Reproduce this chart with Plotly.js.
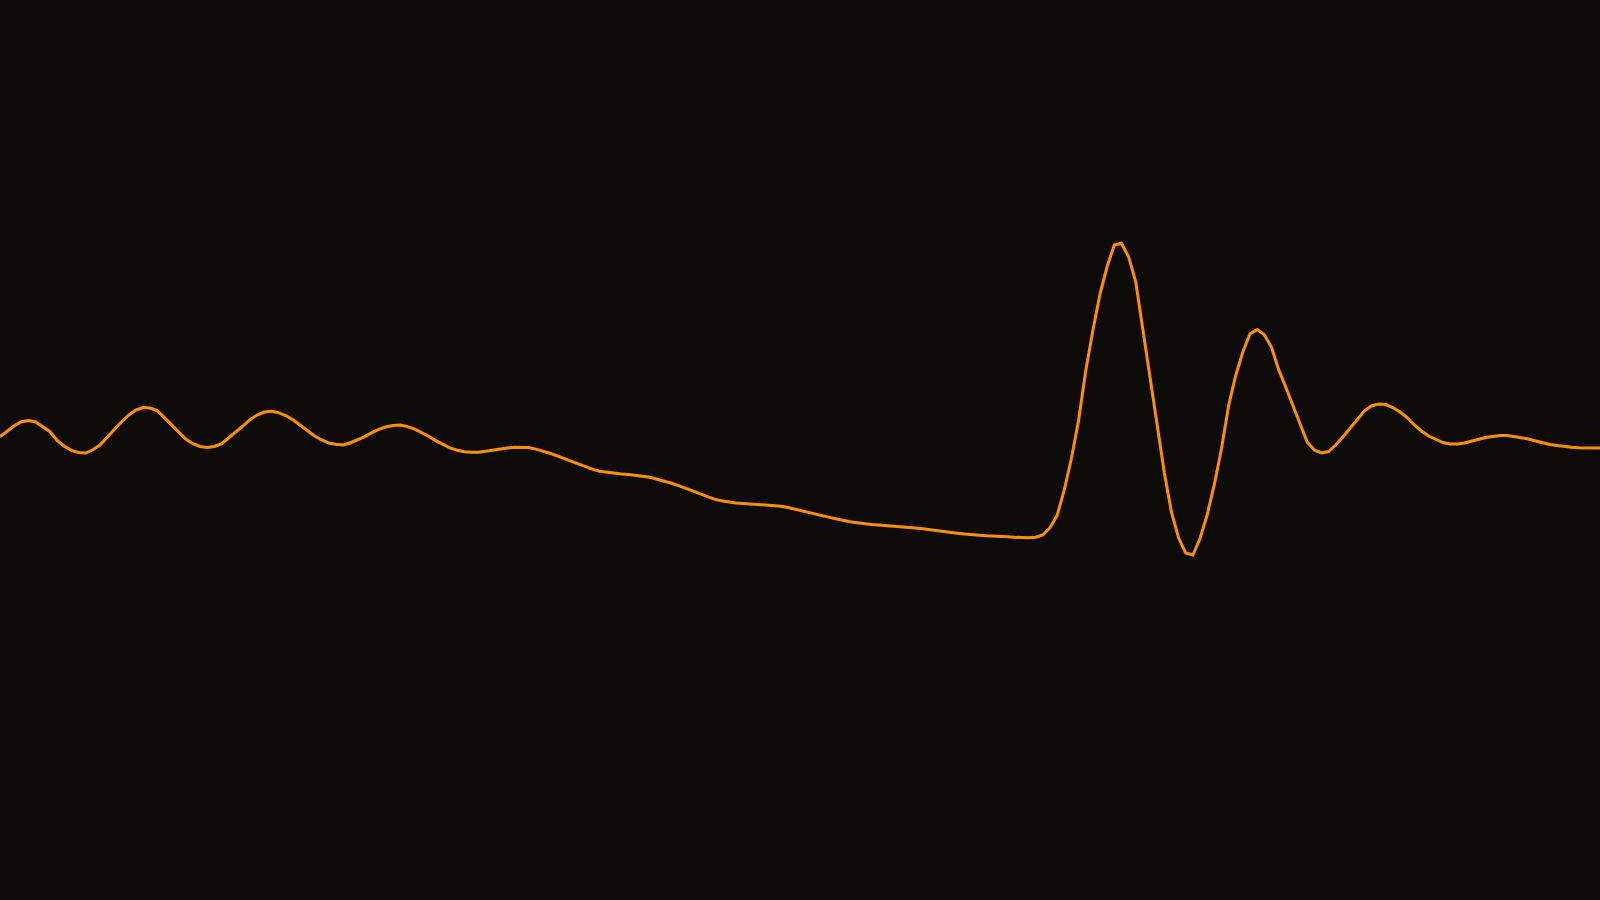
<!DOCTYPE html>
<html>
<head>
<meta charset="utf-8">
<script src="https://cdn.plot.ly/plotly-3.0.1.min.js"></script>
<style>
  html, body { margin: 0; padding: 0; background: #0c0b08; }
  #chart { width: 1600px; height: 900px; }
</style>
</head>
<body>
<div id="chart"></div>
<script>
// Sample amplitudes, one per time step
const amplitude = [
  13.3, 18.7, 24.3, 28.2, 29.4, 28, 23.5, 18.3, 9.5, 3.8,
  -0.4, -2.5, -3, 0.2, 5, 12.2, 20.4, 28, 34.8, 40,
  42.5, 42, 39.5, 32.4, 25.2, 18.2, 11, 6.3, 3.5, 2.4,
  3.5, 6, 11.8, 17.5, 24, 30.3, 35, 38, 38.8, 37.4,
  34.5, 30.2, 24.7, 19, 14.3, 10.3, 7, 5.7, 5, 7,
  9.7, 13.1, 17.1, 20.6, 23, 24.5, 25, 23.5, 21.2, 17.6,
  13.8, 9.4, 5.4, 2.2, -0.2, -1.8, -2.3, -2.3, -1.3, 0,
  1.1, 2, 2.7, 2.7, 2.4, 0.9, -1, -3.3, -5.8, -8.6,
  -11.8, -14.6, -17, -19.4, -21.2, -22.3, -23.4, -24, -24.6, -25.3,
  -26.3, -27.3, -29.2, -31, -33.3, -35.7, -38.3, -41, -43.7, -46.4,
  -49.1, -50.8, -52, -53.1, -53.6, -54, -54.3, -54.8, -55.4, -55.9,
  -57, -58.6, -60, -61.8, -63.6, -65.3, -67.1, -68.8, -70.6, -71.7,
  -72.7, -73.7, -74.4, -74.9, -75.4, -76, -76.6, -77.2, -77.8, -78.5,
  -79.5, -80.6, -81.6, -82.5, -83.2, -84, -84.7, -85.2, -85.7, -86,
  -86, -86.7, -87.3, -87.7, -87.7, -87.3, -85, -77.7, -65.3, -40,
  -8.3, 29.5, 79, 119.5, 156, 183.5, 205, 206.7, 193.3, 168.3,
  121.4, 72.4, 23.5, -22.4, -62, -87.8, -103, -105, -88.8, -65,
  -34.7, 1, 44, 74.5, 98, 116.3, 120.4, 115.3, 103, 80.6,
  63, 45, 26, 8, 0, -3, -1.5, 5, 13, 21.5,
  30.5, 39, 44, 46, 45.5, 42.5, 38, 32.5, 25, 19,
  14, 10.5, 7.5, 6, 6, 7, 9, 11, 12.5, 13.5,
  14.5, 14.5, 13.5, 12.5, 11, 9, 7, 5.5, 4.5, 3.5,
  2.7, 2.3, 2, 2, 2
];
const steps = amplitude.map((v, i) => i);

const data = [{
  x: steps,
  y: amplitude,
  type: 'scatter',
  mode: 'lines',
  line: {color: '#ff8f00', width: 3},
  hoverinfo: 'skip'
}];

const layout = {
  width: 1600,
  height: 900,
  margin: {l: 0, r: 0, t: 0, b: 0},
  paper_bgcolor: '#0c0b08',
  plot_bgcolor: '#0c0b08',
  showlegend: false,
  xaxis: {range: [0, steps.length - 1], visible: false, fixedrange: true},
  yaxis: {range: [-450, 450], visible: false, fixedrange: true}
};

Plotly.newPlot('chart', data, layout, {displayModeBar: false, staticPlot: true});
</script>
</body>
</html>
